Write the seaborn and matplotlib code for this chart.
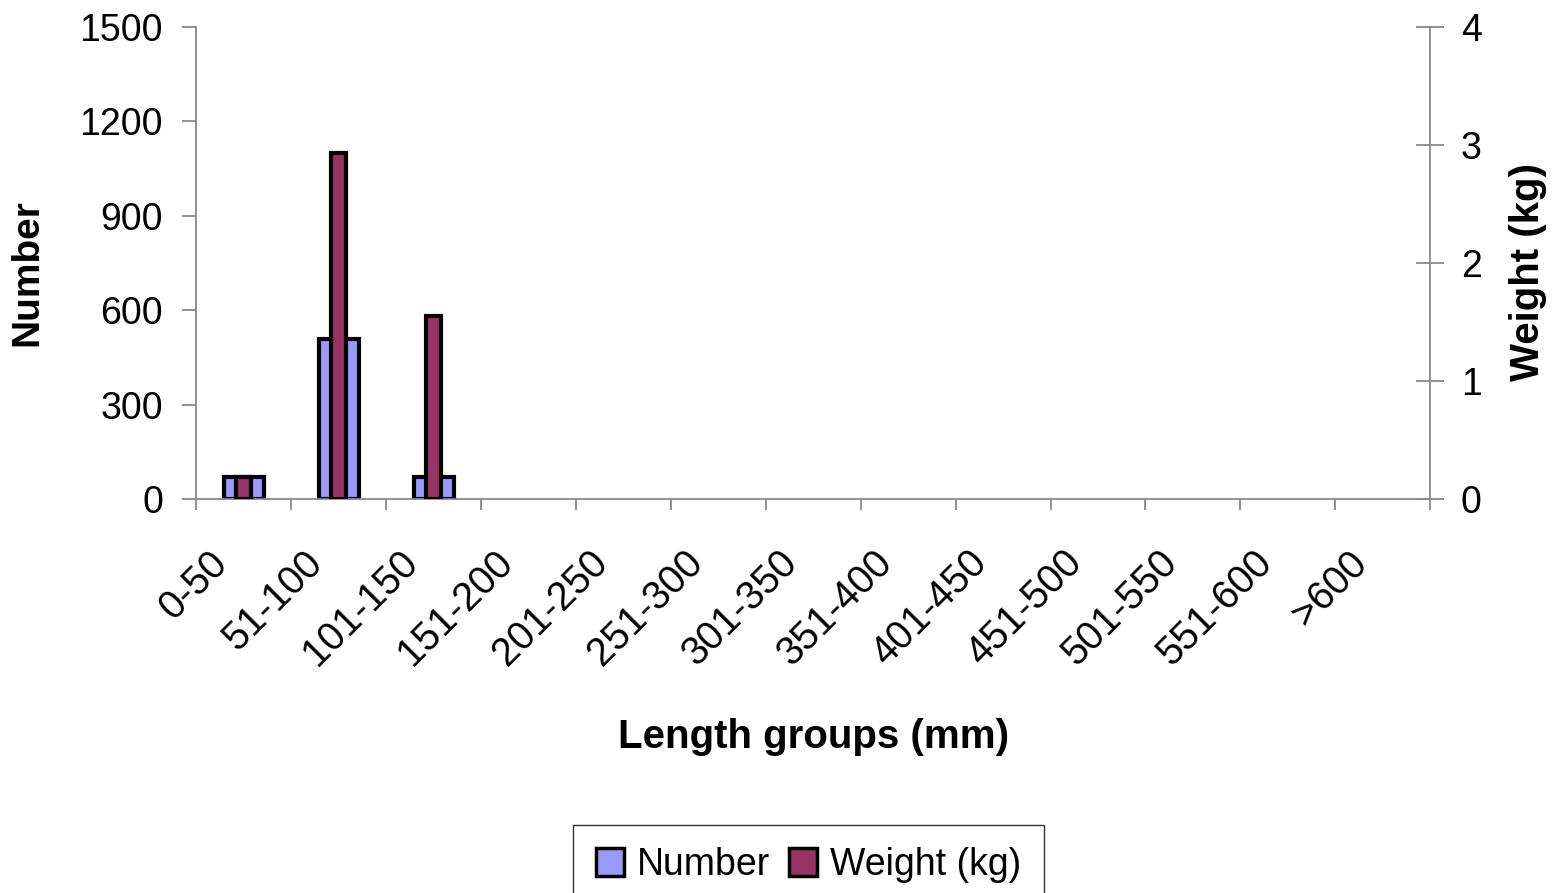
import numpy as np
import pandas as pd
import matplotlib
matplotlib.use("Agg")
import matplotlib.pyplot as plt
import matplotlib.transforms as mtransforms
import seaborn as sns
from matplotlib.patches import Patch

# 数据
length_groups = ['0-50', '51-100', '101-150', '151-200', '201-250', '251-300', '301-350',
                 '351-400', '401-450', '451-500', '501-550', '551-600', '>600']
number = [70, 510, 70, 0, 0, 0, 0, 0, 0, 0, 0, 0, 0]
weight_kg = [0.19, 2.93, 1.55, 0, 0, 0, 0, 0, 0, 0, 0, 0, 0]

sns.set_theme(style="white")
plt.rcParams['font.family'] = ['Liberation Sans', 'DejaVu Sans']
plt.rcParams['text.color'] = 'black'
plt.rcParams['axes.labelcolor'] = 'black'
plt.rcParams['xtick.color'] = 'black'
plt.rcParams['ytick.color'] = 'black'

df = pd.DataFrame({'group': length_groups, 'Number': number, 'Weight': weight_kg})

fig = plt.figure(figsize=(15.58, 8.93), dpi=100)
ax = fig.add_axes([0.126, 0.441, 0.792, 0.529])
ax2 = ax.twinx()

grey = '#888888'

sns.barplot(data=df, x='group', y='Number', ax=ax, color='#9999ff', width=0.42,
            edgecolor='black', linewidth=3, saturation=1)
sns.barplot(data=df, x='group', y='Weight', ax=ax2, color='#993366', width=0.16,
            edgecolor='black', linewidth=3, saturation=1)

# 零值柱子不画边框
for a in (ax, ax2):
    for p in a.patches:
        if p.get_height() == 0:
            p.set_visible(False)

ax.set_ylim(0, 1500)
ax.set_yticks([0, 300, 600, 900, 1200, 1500])
ax2.set_ylim(0, 4)
ax2.set_yticks([0, 1, 2, 3, 4])
ax.set_xlim(-0.5, len(length_groups) - 0.5)

for a in (ax, ax2):
    a.spines['top'].set_visible(False)
    for s in ('left', 'right', 'bottom'):
        a.spines[s].set_color(grey)
        a.spines[s].set_linewidth(1.3)
ax.spines['right'].set_visible(False)
ax2.spines['left'].set_visible(False)
ax2.spines['bottom'].set_visible(False)

# x 轴：标签在类别中心，刻度线在类别边界
ax.set_xticks(range(len(length_groups)))
ax.set_xticklabels(length_groups, rotation=45, ha='right', va='center',
                   rotation_mode='anchor', fontsize=28.5)
ax.set_xticks(np.arange(-0.5, len(length_groups), 1), minor=True)
ax.tick_params(axis='x', which='major', length=0, pad=38)
ax.tick_params(axis='x', which='minor', length=8, width=1.3, color=grey, direction='out', bottom=True)

ax.tick_params(axis='y', which='major', left=True, length=10, width=1.3, color=grey,
               direction='out', labelsize=27, pad=14)
ax2.tick_params(axis='y', which='major', right=True, length=20, width=1.3, color=grey,
                direction='inout', labelsize=27, pad=12)

# 标签整体左移一点
offset = mtransforms.ScaledTranslation(-0.22, -0.05, fig.dpi_scale_trans)
for lbl in ax.get_xticklabels():
    lbl.set_transform(lbl.get_transform() + offset)

ax.set_xlabel('Length groups (mm)', fontsize=29, fontweight='bold', labelpad=32)
ax.set_ylabel('Number', fontsize=28, fontweight='bold')
ax.yaxis.set_label_coords(-0.122, 0.48)
ax2.set_ylabel('Weight (kg)', fontsize=29, fontweight='bold')
ax2.yaxis.set_label_coords(1.064, 0.48)

handles = [Patch(facecolor='#9999ff', edgecolor='black', linewidth=2.5, label='Number'),
           Patch(facecolor='#993366', edgecolor='black', linewidth=2.5, label='Weight (kg)')]
leg = fig.legend(handles=handles, loc='lower center', bbox_to_anchor=(0.519, -0.035), ncol=2,
                 fontsize=27, frameon=True, fancybox=False, edgecolor='black',
                 handlelength=0.75, handleheight=0.75, handletextpad=0.35, columnspacing=0.5,
                 borderpad=0.6)
leg.get_frame().set_linewidth(1.0)

fig.savefig('out.png', dpi=100)
